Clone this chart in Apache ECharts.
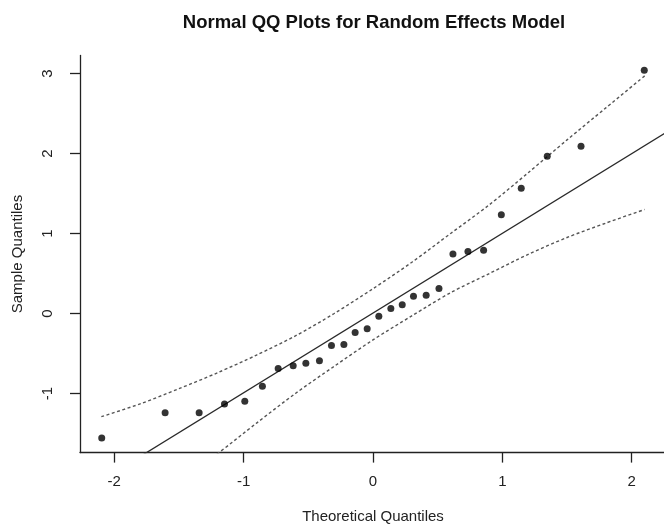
<!DOCTYPE html>
<html><head><meta charset="utf-8">
<script src="https://cdn.jsdelivr.net/npm/echarts@6/dist/echarts.min.js"></script>
<style>html,body{margin:0;padding:0;background:#fff}#c{width:664px;height:526px}</style>
</head><body><div id="c"></div>
<script>
// ---- data ----
const titleText = 'Normal QQ Plots for Random Effects Model';
const xAxisTitle = 'Theoretical Quantiles';
const yAxisTitle = 'Sample Quantiles';

const theoreticalQuantiles = [-2.097, -1.607, -1.344, -1.148, -0.991, -0.855, -0.733, -0.617, -0.519, -0.414,
  -0.321, -0.225, -0.138, -0.045, 0.045, 0.138, 0.226, 0.313, 0.411, 0.510, 0.618, 0.734, 0.855, 0.992,
  1.146, 1.347, 1.608, 2.097];
const sampleQuantiles = [-1.555, -1.242, -1.242, -1.130, -1.096, -0.909, -0.688, -0.654, -0.621, -0.592,
  -0.400, -0.388, -0.238, -0.192, -0.034, 0.062, 0.108, 0.216, 0.229, 0.312, 0.745, 0.775, 0.791, 1.233,
  1.566, 1.966, 2.091, 3.041];

// reference line (qqline) end points
const qqLineX = [-2.4, 2.4];
const qqLineY = [-2.386, 2.397];

// confidence envelope
const envelopeX     = [-2.1, -1.8, -1.5, -1.2, -0.9, -0.6, -0.3, 0.0, 0.3, 0.6, 0.9, 1.2, 1.5, 1.8, 2.1];
const envelopeUpper = [-1.29, -1.13, -0.94, -0.74, -0.52, -0.28, 0.00, 0.31, 0.64, 1.00, 1.36, 1.76, 2.17, 2.57, 2.97];
const envelopeLower = [-2.92, -2.48, -2.10, -1.75, -1.37, -1.00, -0.66, -0.33, -0.03, 0.26, 0.50, 0.74, 0.95, 1.13, 1.30];

const xTickValues = [-2, -1, 0, 1, 2];
const yTickValues = [-1, 0, 1, 2, 3];
const xRange = [-2.265, 2.265];
const yRange = [-1.739, 3.225];

// ---- chart ----
const FONT = '"Liberation Sans", Arial, sans-serif';
const TXT = '#222';
const zip = (a, b) => a.map((v, i) => [v, b[i]]);

const chart = echarts.init(document.getElementById('c'), null, {renderer: 'canvas'});
chart.setOption({
  animation: false,
  backgroundColor: '#fff',
  title: {
    text: titleText,
    left: 369, top: 8, textAlign: 'center',
    textStyle: {fontFamily: FONT, fontSize: 18.5, fontWeight: 'bold', color: '#111'}
  },
  grid: {left: 80, right: -2, top: 55.5, bottom: 73.4, containLabel: false, outerBoundsMode: 'none'},
  xAxis: {
    type: 'value', min: xRange[0], max: xRange[1],
    name: xAxisTitle, nameLocation: 'middle', nameGap: 57,
    nameTextStyle: {fontFamily: FONT, fontSize: 15, color: TXT},
    axisLine: {show: true, onZero: false, lineStyle: {color: '#222', width: 1.3}},
    axisTick: {show: true, length: 10, customValues: xTickValues, lineStyle: {color: '#222', width: 1.3}},
    axisLabel: {customValues: xTickValues, margin: 22, fontFamily: FONT, fontSize: 15, color: TXT},
    splitLine: {show: false}
  },
  yAxis: {
    type: 'value', min: yRange[0], max: yRange[1],
    name: yAxisTitle, nameLocation: 'middle', nameGap: 55,
    nameTextStyle: {fontFamily: FONT, fontSize: 15, color: TXT},
    axisLine: {show: true, onZero: false, lineStyle: {color: '#222', width: 1.3}},
    axisTick: {show: true, length: 10, customValues: yTickValues, lineStyle: {color: '#222', width: 1.3}},
    axisLabel: {customValues: yTickValues, rotate: 90, margin: 25, fontFamily: FONT, fontSize: 15, color: TXT},
    splitLine: {show: false}
  },
  series: [
    {
      name: 'qqline', type: 'line', data: zip(qqLineX, qqLineY), showSymbol: false, clip: true,
      lineStyle: {color: '#2a2a2a', width: 1.3}, silent: true, z: 2
    },
    {
      name: 'upper', type: 'line', data: zip(envelopeX, envelopeUpper), showSymbol: false, clip: true, smooth: 0.3,
      lineStyle: {color: '#555', width: 1.4, type: [3, 2.5]}, silent: true, z: 2
    },
    {
      name: 'lower', type: 'line', data: zip(envelopeX, envelopeLower), showSymbol: false, clip: true, smooth: 0.3,
      lineStyle: {color: '#555', width: 1.4, type: [3, 2.5]}, silent: true, z: 2
    },
    {
      name: 'points', type: 'scatter', data: zip(theoreticalQuantiles, sampleQuantiles),
      symbol: 'circle', symbolSize: 7, itemStyle: {color: '#000'}, z: 3
    }
  ]
});
</script></body></html>
